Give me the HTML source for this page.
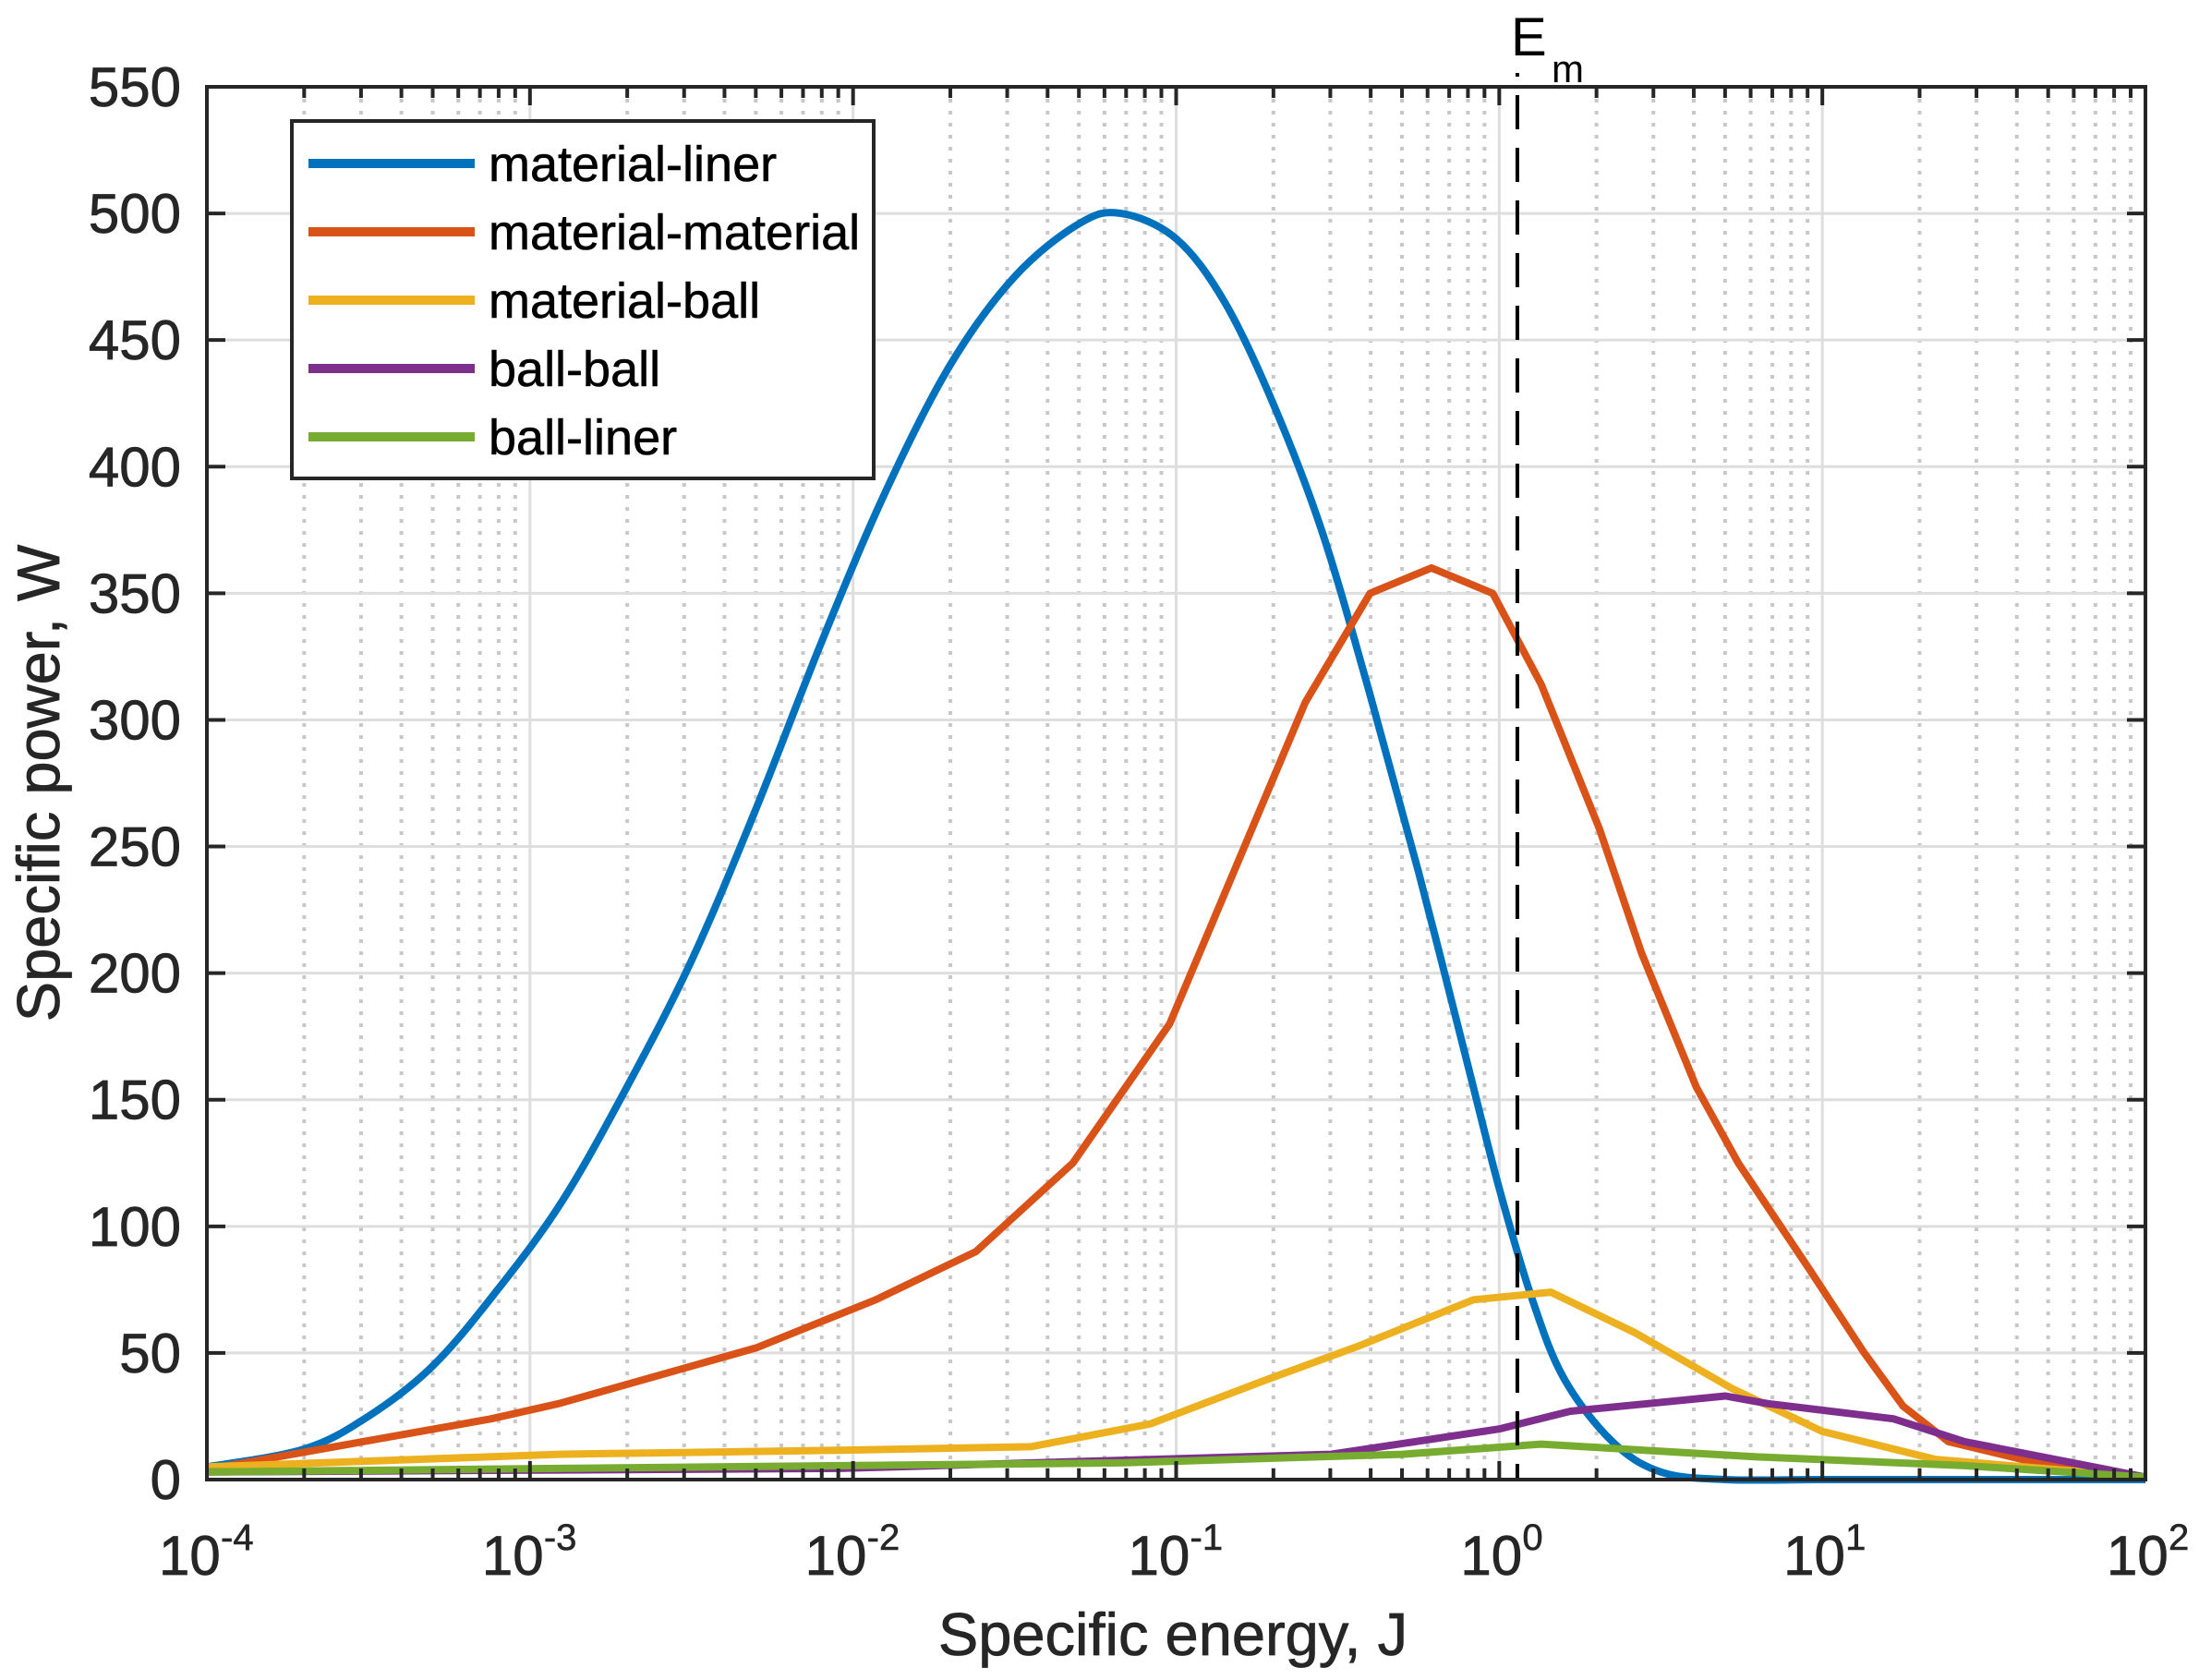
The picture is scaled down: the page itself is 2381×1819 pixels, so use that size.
<!DOCTYPE html>
<html><head><meta charset="utf-8"><style>
html,body{margin:0;padding:0;background:#fff}
svg{display:block;font-family:"Liberation Sans",Arial,sans-serif}
</style></head><body>
<svg id="chart" width="2381" height="1819" viewBox="0 0 2381 1819" xmlns="http://www.w3.org/2000/svg">
<rect x="0" y="0" width="2381" height="1819" fill="#fff"/>
<g id="grid"></g>
<g id="series"></g>
<g id="axes"></g>
<text x="1270" y="1792" font-size="65" text-anchor="middle" fill="#262626" stroke="#262626" stroke-width="0.8">Specific energy, J</text>
<text transform="translate(64,848) rotate(-90)" font-size="65" text-anchor="middle" fill="#262626" stroke="#262626" stroke-width="0.8">Specific power, W</text>
<g>
<text x="1636" y="60" font-size="58" fill="#000">E</text>
<text x="1680" y="89" font-size="42" fill="#000">m</text>
<rect x="1641" y="79" width="4" height="4" fill="#000"/>
</g>
<g id="legend"></g>
</svg>
<script>
const blueX = [-4,-3.7,-3.5,-3.3,-3.1,-2.9,-2.7,-2.5,-2.3,-2.1,-1.9,-1.7,-1.5,-1.3,-1.17,-1.0,-0.85,-0.7,-0.55,-0.4,-0.25,-0.1,0,0.1,0.2,0.35,0.5,0.7,1,1.5,2];
const blueY = [5,12,25,45,75,110,155,205,265,330,390,440,475,496,500,490,465,425,375,310,240,165,115,72,40,15,3,0,0,0,0];
const orangeX = [-4,-3.12,-2.91,-2.30,-1.93,-1.62,-1.32,-1.02,-0.60,-0.40,-0.21,-0.02,0.13,0.31,0.44,0.61,0.74,0.96,1.13,1.25,1.39,1.65,2];
const orangeY = [4,24,30,52,71,90,125,180,307,350,360,350,314,257,208,155,125,83,50,29,15,7,1];
const yellowX = [-4,-2.91,-2.04,-1.45,-1.08,-0.73,-0.43,-0.08,0.16,0.42,0.72,1.0,1.35,2];
const yellowY = [5,10,11.6,13,22,39,53,71,74,58,36,19,8,1];
const purpleX = [-4,-2.04,-0.52,0.0,0.22,0.70,0.83,1.22,1.44,2];
const purpleY = [3,4.4,10,20,27,33,30,24,15,1];
const greenX = [-4,-2.91,-1.17,-0.3,0.13,0.79,1.44,2];
const greenY = [3,4.4,6.6,10,14,9,5.5,1];
const seriesNames = ["material-liner","material-material","material-ball","ball-ball","ball-liner"];
const yTicks = [0,50,100,150,200,250,300,350,400,450,500,550];
const xTickExps = [-4,-3,-2,-1,0,1,2];
const emValue = 0.056; // log10 of E_m

const L=224,R=2323,T=94,B=1602;
const xs = v => L + (v - (-4)) / 6 * (R - L);
const ys = v => B - v / 550 * (B - T);
const NS="http://www.w3.org/2000/svg";
function mk(tag, attrs, parent){const e=document.createElementNS(NS,tag);for(const k in attrs)e.setAttribute(k,attrs[k]);parent.appendChild(e);return e;}
const grid=document.getElementById('grid'), axes=document.getElementById('axes'), ser=document.getElementById('series'), leg=document.getElementById('legend');

for(let e=-4;e<2;e++){for(let m=2;m<=9;m++){const x=xs(e+Math.log10(m));
 const g=mk('line',{x1:x,x2:x,y1:T,y2:B,stroke:'#c8c8c8','stroke-width':4,'stroke-dasharray':'4 9'},grid);
 
 }}
xTickExps.forEach(e=>{const x=xs(e);
 const g=mk('line',{x1:x,x2:x,y1:T,y2:B,stroke:'#dedede','stroke-width':3},grid);
 
 });
yTicks.forEach(v=>{const y=ys(v);
 const g=mk('line',{x1:L,x2:R,y1:y,y2:y,stroke:'#dedede','stroke-width':3},grid);
 
 });

const colors=["#0072BD","#D95319","#EDB120","#7E2F8E","#77AC30"];
const data=[[blueX,blueY],[orangeX,orangeY],[yellowX,yellowY],[purpleX,purpleY],[greenX,greenY]];
function smoothPath(P){let d='M'+P[0][0].toFixed(1)+','+P[0][1].toFixed(1);
 for(let i=0;i<P.length-1;i++){const p0=P[Math.max(0,i-1)],p1=P[i],p2=P[i+1],p3=P[Math.min(P.length-1,i+2)];
  const c1=[p1[0]+(p2[0]-p0[0])/6,p1[1]+(p2[1]-p0[1])/6],c2=[p2[0]-(p3[0]-p1[0])/6,p2[1]-(p3[1]-p1[1])/6];
  d+=' C'+c1.map(v=>v.toFixed(1)).join(',')+' '+c2.map(v=>v.toFixed(1)).join(',')+' '+p2[0].toFixed(1)+','+p2[1].toFixed(1);}
 return d;}
data.forEach((d,i)=>{
 const P=d[0].map((x,j)=>[xs(x),ys(d[1][j])]);
 let path;
 if(i===0) path=smoothPath(P); else path='M'+P.map(p=>p[0].toFixed(1)+','+p[1].toFixed(1)).join(' L');
 const p=mk('path',{d:path,fill:'none',stroke:colors[i],'stroke-width':8,'stroke-linejoin':'round'},ser);
 
 
});

const em=mk('line',{x1:xs(emValue),x2:xs(emValue),y1:103,y2:B,stroke:'#000','stroke-width':4,'stroke-dasharray':'37 20'},ser);



const box=mk('rect',{x:L,y:T,width:R-L,height:B-T,fill:'none',stroke:'#262626','stroke-width':4},axes);


for(let e=-4;e<=2;e++){for(let m=1;m<=9;m++){if(e===2&&m>1)break;const x=xs(e+Math.log10(m));const len=m===1?20:12;
 const t1=mk('line',{x1:x,x2:x,y1:B,y2:B-len,stroke:'#262626','stroke-width':4},axes);
 
 
 const t2=mk('line',{x1:x,x2:x,y1:T,y2:T+len,stroke:'#262626','stroke-width':4},axes);
 
 }}
xTickExps.forEach(e=>{const x=xs(e);
 const t=mk('text',{x:x-52,y:1705,'font-size':60,fill:'#262626',stroke:'#262626','stroke-width':0.8},axes);
 
 
 t.textContent='10';
 const s=mk('text',{x:x+15,y:1678,'font-size':40,fill:'#262626',stroke:'#262626','stroke-width':0.6},axes);
 
 
 s.textContent=String(e);
 if(e>=0){t.setAttribute('x',x-42);s.setAttribute('x',x+25);}
});
yTicks.forEach(v=>{const y=ys(v);
 const a=mk('line',{x1:L,x2:L+20,y1:y,y2:y,stroke:'#262626','stroke-width':4},axes);
 
 
 const b=mk('line',{x1:R,x2:R-20,y1:y,y2:y,stroke:'#262626','stroke-width':4},axes);
 
 
 const t=mk('text',{x:196,y:y+21,'font-size':60,'text-anchor':'end',fill:'#262626',stroke:'#262626','stroke-width':0.8},axes);
 
 
 t.textContent=String(v);
});

const lb=mk('rect',{x:316,y:131,width:630,height:387,fill:'#fff',stroke:'#262626','stroke-width':4},leg);


seriesNames.forEach((n,i)=>{const y=177+i*74;
 const l=mk('line',{x1:334,x2:514,y1:y,y2:y,stroke:colors[i],'stroke-width':10},leg);
 
 
 const t=mk('text',{x:529,y:y+19,'font-size':54,fill:'#000',stroke:'#000','stroke-width':0.6},leg);
 
 
 t.textContent=n;
});
</script>
</body></html>
